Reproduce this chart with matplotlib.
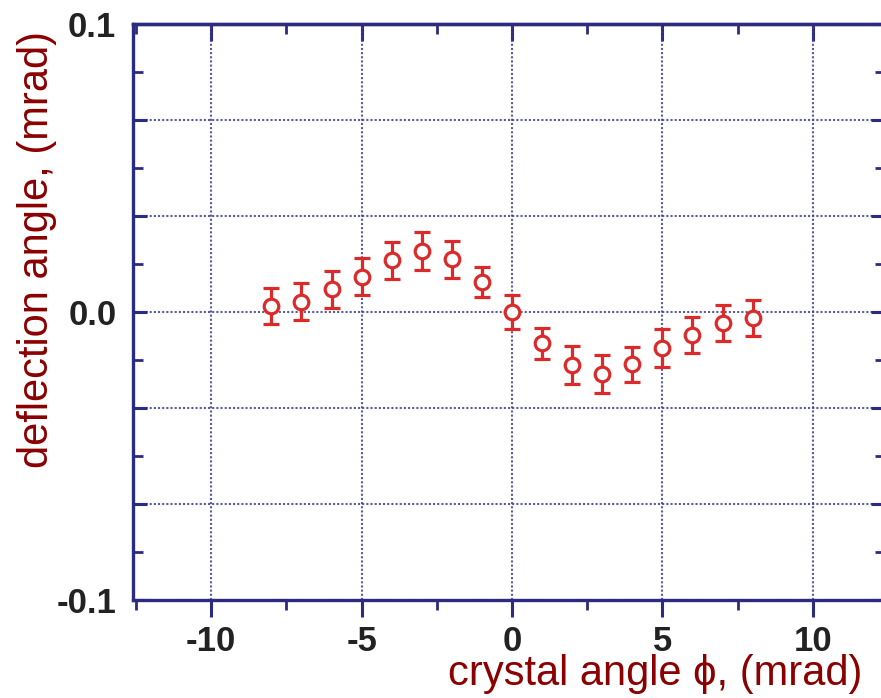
import numpy as np
import matplotlib
matplotlib.use("Agg")
import matplotlib.pyplot as plt
from matplotlib.ticker import MultipleLocator, FixedLocator, FuncFormatter

plt.rcParams['axes.unicode_minus'] = False
plt.rcParams['font.family'] = ['Liberation Sans', 'DejaVu Sans']

# data
crystal_angle = [-8, -7, -6, -5, -4, -3, -2, -1, 0, 1, 2, 3, 4, 5, 6, 7, 8]
deflection = [0.0021, 0.0036, 0.0079, 0.0123, 0.0180, 0.0212, 0.0183, 0.0105, 0.0000,
              -0.0109, -0.0184, -0.0215, -0.0182, -0.0126, -0.0080, -0.0037, -0.0020]
deflection_err = [0.0064, 0.0063, 0.0065, 0.0065, 0.0064, 0.0066, 0.0065, 0.0052, 0.0060,
                  0.0053, 0.0065, 0.0065, 0.0062, 0.0066, 0.0064, 0.0063, 0.0063]
x_major_ticks = [-10, -5, 0, 5, 10]
y_labelled = [-0.1, 0.0, 0.1]

navy = '#2b2b82'
grid_c = '#3d3d8f'
red = '#dc2a2a'
darkred = '#8b0000'

fig = plt.figure(figsize=(8.81, 6.98), dpi=100)
ax = fig.add_axes([133 / 881, 1 - 600 / 698, 752 / 881, 576 / 698])
ax.set_xlim(-12.6, 12.4)
ax.set_ylim(-0.1, 0.1)

# grid
y_grid = np.arange(-0.1, 0.1001, 0.1 / 3)
ax.xaxis.set_major_locator(FixedLocator(x_major_ticks))
ax.xaxis.set_minor_locator(MultipleLocator(2.5))
ax.yaxis.set_major_locator(FixedLocator(y_grid))
ax.yaxis.set_minor_locator(MultipleLocator(0.1 / 6))

def yfmt(v, pos):
    for t in y_labelled:
        if abs(v - t) < 1e-9:
            return f"{t:.1f}"
    return ""
ax.yaxis.set_major_formatter(FuncFormatter(yfmt))

ax.grid(True, which='major', color=grid_c, linestyle=(0, (1, 1)), linewidth=1.5, alpha=0.85)
ax.set_axisbelow(True)

for s in ax.spines.values():
    s.set_color(navy)
    s.set_linewidth(2.4)

ax.tick_params(axis='x', which='major', direction='out', length=12, width=2.2, color=navy,
               pad=6, labelsize=25, labelcolor='#222222')
ax.tick_params(axis='x', which='minor', direction='out', length=7, width=2.0, color=navy)
ax.tick_params(axis='y', which='major', direction='in', length=10, width=2.2, color=navy,
               left=True, right=True, pad=12, labelsize=25, labelcolor='#222222')
ax.tick_params(axis='y', which='minor', direction='in', length=7, width=2.0, color=navy,
               left=True, right=True)
for lab in ax.get_xticklabels() + ax.get_yticklabels():
    lab.set_fontweight('bold')

sec = ax.secondary_xaxis('top')
sec.xaxis.set_major_locator(FixedLocator(x_major_ticks))
sec.xaxis.set_minor_locator(MultipleLocator(2.5))
sec.tick_params(axis='x', which='major', direction='in', length=12, width=2.2, color=navy,
                labeltop=False)
sec.tick_params(axis='x', which='minor', direction='in', length=7, width=2.0, color=navy)
sec.spines['top'].set_color(navy)
sec.spines['top'].set_linewidth(2.4)

ax.errorbar(crystal_angle, deflection, yerr=deflection_err, fmt='o', color=red,
            markerfacecolor='white', markeredgecolor=red, markersize=10.5, markeredgewidth=2.3,
            elinewidth=2.3, capsize=5.5, capthick=2.3, zorder=5)

fig.text(48 / 881, 1 - 249 / 698, 'deflection angle, (mrad)', rotation=90,
         rotation_mode='anchor', ha='center', va='baseline', fontsize=30, color=darkred)
fig.text(862 / 881, 1 - 685 / 698, 'crystal angle \u03d5, (mrad)',
         ha='right', va='baseline', fontsize=30, color=darkred)

fig.savefig('out.png', dpi=100)
